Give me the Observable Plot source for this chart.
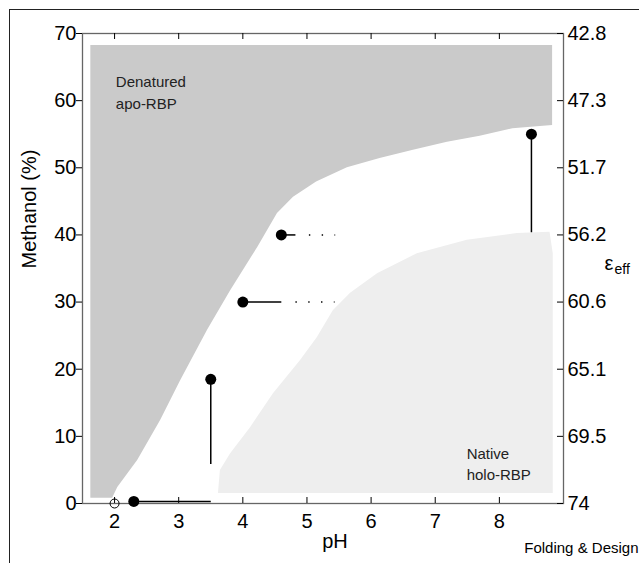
<!DOCTYPE html>
<html>
<head>
<meta charset="utf-8">
<script src="https://cdn.jsdelivr.net/npm/d3@7"></script>
<script src="https://cdn.jsdelivr.net/npm/@observablehq/plot@0.6"></script>
<style>
  html, body { margin: 0; padding: 0; background: #fff; }
  #wrap { position: relative; width: 639px; height: 563px; overflow: hidden; }
  #border { position: absolute; left: 9px; top: 9px; right: -2px; bottom: -2px;
            border-left: 1px solid #222; border-top: 1px solid #222; pointer-events: none; }
  #wrap svg { position: absolute; left: 0; top: 0; }
</style>
</head>
<body>
<div id="wrap"><div id="border"></div></div>
<script>
// ---- data ----
const xTicks = [2, 3, 4, 5, 6, 7, 8];
const yTicks = [0, 10, 20, 30, 40, 50, 60, 70];
const epsLabels = ["74", "69.5", "65.1", "60.6", "56.2", "51.7", "47.3", "42.8"];

// Denatured apo-RBP region: right boundary (pH) for each methanol %
const denatY = [0.8, 2.4, 6.4, 12.4, 18.3, 25.8, 31.7, 38.1, 43.2, 45.6, 47.9, 50.0, 51.4, 52.6, 53.8, 54.7, 55.8, 56.3, 68.2];
const denatX = [1.97, 2.05, 2.36, 2.72, 3.03, 3.45, 3.81, 4.23, 4.54, 4.79, 5.15, 5.63, 6.14, 6.66, 7.19, 7.70, 8.21, 8.83, 8.83];
const denatLeft = 1.63;

// Native holo-RBP region: upper boundary (methanol %) for each pH
const nativeX = [3.62, 3.65, 3.81, 4.12, 4.48, 4.90, 5.16, 5.41, 5.68, 6.10, 6.72, 7.50, 8.28, 8.79, 8.84];
const nativeY = [1.5, 4.9, 7.4, 11.3, 16.4, 21.3, 24.7, 28.7, 31.3, 34.2, 37.2, 39.2, 40.2, 40.4, 37.2];
const nativeBottom = 1.5;

// filled points
const pointX = [2.3, 3.5, 4.0, 4.6, 8.5];
const pointY = [0.3, 18.5, 30, 40, 55];
// open point
const openX = [2.0];
const openY = [0];

// solid segments from points
const segX1 = [2.3, 3.5, 4.0, 4.6, 8.5];
const segY1 = [0.3, 18.5, 30, 40, 55];
const segX2 = [3.5, 3.5, 4.6, 4.82, 8.5];
const segY2 = [0.3, 5.9, 30, 40, 40.4];

// dotted continuations
const dotX1 = [4.82, 5.03];
const dotX2 = [5.43, 5.44];
const dotY = [30, 40];

// region labels
const regionText = ["Denatured\napo-RBP", "Native\nholo-RBP"];
const regionX = [2.02, 7.49];
const regionY = [64.3, 9.0];
const regionLH = [1.47, 1.38];

// ---- build tables ----
const denat = denatY.map((y, i) => ({y, x: denatX[i]}));
const native = nativeX.map((x, i) => ({x, y: nativeY[i]}));
const idx = (a) => a.map((_, i) => i);

const FONT = "'Liberation Sans', Arial, Helvetica, sans-serif";

const chart = Plot.plot({
  width: 639,
  height: 563,
  marginLeft: 82,
  marginRight: 76,
  marginTop: 33,
  marginBottom: 60,
  style: {fontFamily: FONT, fontSize: "20px", color: "#000", background: "transparent"},
  x: {domain: [1.5, 9]},
  y: {domain: [0, 70]},
  marks: [
    Plot.areaX(denat, {y: "y", x1: () => denatLeft, x2: "x", fill: "#cacaca"}),
    Plot.areaY(native, {x: "x", y1: () => nativeBottom, y2: "y", fill: "#eeeeee"}),
    Plot.frame({stroke: "#666", strokeWidth: 1.3}),
    // inward ticks: top, bottom, right
    Plot.tickX(xTicks, {x: d => d, insetBottom: 464, stroke: "#000"}),
    Plot.tickX(xTicks, {x: d => d, insetTop: 464, stroke: "#000"}),
    Plot.tickY(yTicks, {y: d => d, insetLeft: 475, stroke: "#000"}),
    Plot.axisY(yTicks, {anchor: "left", tickSize: 6, tickPadding: 0, fontSize: 20, label: null}),
    Plot.axisY(yTicks, {anchor: "right", tickSize: 0, tickPadding: 4, fontSize: 20, label: null,
      tickFormat: d => epsLabels[yTicks.indexOf(d)]}),
    Plot.axisX(xTicks, {anchor: "bottom", tickSize: 0, tickPadding: 10, fontSize: 20, label: null}),
    // axis titles
    Plot.text(["pH"], {frameAnchor: "bottom", dx: 12, dy: 38, fontSize: 20, lineAnchor: "middle"}),
    Plot.text(["Methanol (%)"], {frameAnchor: "left", dx: -53, rotate: -90, fontSize: 20, lineAnchor: "middle"}),
    Plot.text(["ε"], {frameAnchor: "right", dx: 41, dy: -5, fontSize: 20, textAnchor: "start", lineAnchor: "middle"}),
    Plot.text(["eff"], {frameAnchor: "right", dx: 51, dy: 1, fontSize: 14, textAnchor: "start", lineAnchor: "middle"}),
    Plot.text(["Folding & Design"], {frameAnchor: "bottom-right", dx: 75, dy: 45, fontSize: 15, textAnchor: "end", lineAnchor: "middle"}),
    // region labels
    Plot.text(idx(regionText), {x: i => regionX[i], y: i => regionY[i], text: i => regionText[i],
      textAnchor: "start", lineAnchor: "top", fontSize: 15, lineHeight: 1.45, fill: "#222"}),
    // segments
    Plot.link(idx(segX1), {x1: i => segX1[i], y1: i => segY1[i], x2: i => segX2[i], y2: i => segY2[i],
      stroke: "#000", strokeWidth: 1.5}),
    Plot.link(idx(dotX1), {x1: i => dotX1[i], y1: i => dotY[i], x2: i => dotX2[i], y2: i => dotY[i],
      stroke: "#000", strokeWidth: 1.4, strokeDasharray: "1.4,11.4", strokeLinecap: "butt"}),
    // points
    Plot.dot(idx(pointX), {x: i => pointX[i], y: i => pointY[i], r: 5.5, fill: "#000", stroke: "none"}),
    Plot.dot(idx(openX), {x: i => openX[i], y: i => openY[i], r: 4.5, fill: "none", stroke: "#000", strokeWidth: 1})
  ]
});
document.getElementById("wrap").appendChild(chart);
</script>
</body>
</html>
